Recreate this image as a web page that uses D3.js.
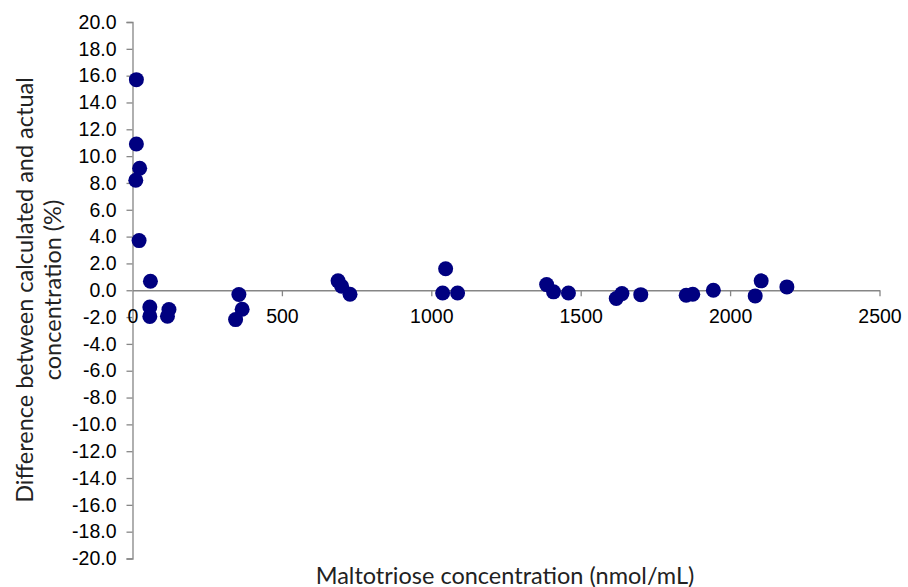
<!DOCTYPE html>
<html><head><meta charset="utf-8">
<script src="https://cdn.jsdelivr.net/npm/d3@7"></script>
<style>body{margin:0;background:#fff}</style>
</head><body><svg id="c" width="908" height="587"></svg>
<script>
const concentration = [13, 13, 24, 11, 22, 60, 58, 58, 122, 117, 356, 367, 345,
  688, 700, 728, 1048, 1038, 1088, 1386, 1409, 1459,
  1619, 1638, 1701, 1853, 1875, 1944, 2084, 2104, 2190];
const difference = [15.7, 10.9, 9.1, 8.2, 3.7, 0.67, -1.25, -1.95, -1.44, -1.94, -0.32, -1.42, -2.19,
  0.7, 0.3, -0.3, 1.6, -0.2, -0.2, 0.42, -0.12, -0.2,
  -0.62, -0.25, -0.33, -0.37, -0.3, 0.0, -0.42, 0.7, 0.25];
const xTicks = [0, 500, 1000, 1500, 2000, 2500];
const yTicks = [-20, -18, -16, -14, -12, -10, -8, -6, -4, -2, 0, 2, 4, 6, 8, 10, 12, 14, 16, 18, 20];
const xTitle = "Maltotriose concentration (nmol/mL)";
const yTitle = ["Difference between calculated and actual", "concentration (%)"];

const svg = d3.select("#c");
const x = d3.scaleLinear().domain([0, 2500]).range([132.5, 879.5]);
const y = d3.scaleLinear().domain([-20, 20]).range([558.5, 22]);
const axisColor = "#868686";
const tickFont = "Liberation Sans, Arial, sans-serif";
const titleFont = "Lato, Open Sans, sans-serif";

// y axis
const ya = svg.append("g").attr("transform", `translate(${x(0)},0)`)
  .call(d3.axisLeft(y).tickValues(yTicks).tickFormat(d3.format(".1f")).tickSize(6).tickPadding(10));
ya.select(".domain").attr("stroke", axisColor).attr("stroke-width", 1.3);
ya.selectAll(".tick line").attr("stroke", axisColor).attr("stroke-width", 1.3);
ya.selectAll(".tick text").attr("font-family", tickFont)
  .attr("font-size", 19.5).attr("fill", "#000").text(d => d3.format(".1f")(d).replace("−", "-"));

// x axis at y=0
const xa = svg.append("g").attr("transform", `translate(0,${y(0)})`)
  .call(d3.axisBottom(x).tickValues(xTicks).tickFormat(d3.format("d")).tickSize(6).tickPadding(13).tickSizeOuter(0));
xa.select(".domain").attr("stroke", axisColor).attr("stroke-width", 1.3);
xa.selectAll(".tick line").attr("stroke", axisColor).attr("stroke-width", 1.3);
xa.selectAll(".tick text").attr("font-family", tickFont)
  .attr("font-size", 19.5).attr("fill", "#000");
xa.selectAll(".tick").filter(d => d === 0).select("line").remove();

// points
svg.append("g").selectAll("circle").data(concentration).join("circle")
  .attr("cx", d => x(d))
  .attr("cy", (d, i) => y(difference[i]))
  .attr("r", 7.5)
  .attr("fill", "#000080");

// titles
svg.append("text").attr("x", 505).attr("y", 584)
  .attr("text-anchor", "middle").attr("font-family", titleFont)
  .attr("font-size", 23.5).attr("fill", "#222").text(xTitle);
yTitle.forEach((t, i) => svg.append("text")
  .attr("transform", `translate(${33 + i * 28},290) rotate(-90)`)
  .attr("text-anchor", "middle").attr("font-family", titleFont)
  .attr("font-size", 23.5).attr("fill", "#222").text(t));
</script></body></html>
